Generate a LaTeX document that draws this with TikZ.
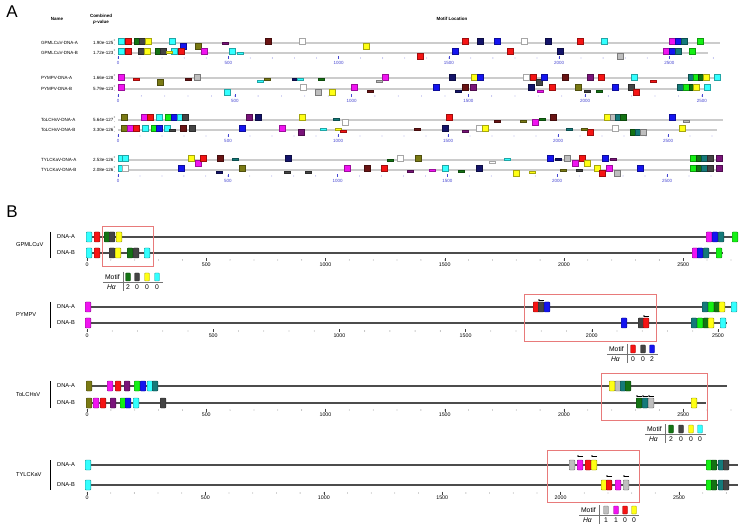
\documentclass[tikz,border=0pt]{standalone}
\usepackage{fontspec}
\setmainfont{Liberation Sans}
\usetikzlibrary{arrows.meta}

\definecolor{mcyan}{HTML}{33FFFF}
\definecolor{mred}{HTML}{F51414}
\definecolor{mdkgreen}{HTML}{147314}
\definecolor{mdkgray}{HTML}{444444}
\definecolor{myellow}{HTML}{FFFF14}
\definecolor{mblue}{HTML}{1414F0}
\definecolor{mnavy}{HTML}{14146A}
\definecolor{mmagenta}{HTML}{F014F0}
\definecolor{mmaroon}{HTML}{6A1414}
\definecolor{molive}{HTML}{7A7A14}
\definecolor{mpurple}{HTML}{7A147A}
\definecolor{mteal}{HTML}{147A7A}
\definecolor{mgray}{HTML}{BEBEBE}
\definecolor{mlime}{HTML}{14F014}
\definecolor{mwhite}{HTML}{FFFFFF}
\definecolor{axblue}{HTML}{4646D2}
\definecolor{hlred}{HTML}{E87A7A}

\tikzset{
  abox/.style={draw=#1!65!black, fill=#1, line width=0.3pt},
  bbox/.style={draw=#1!60!black, fill=#1, line width=0.4pt, rounded corners=0.8pt},
  rowlab/.style={font=\fontsize{4.5}{5}\selectfont, anchor=west, inner sep=0pt},
  hdlab/.style={font=\fontsize{4.5}{5}\selectfont\bfseries, inner sep=0pt},
  alab/.style={font=\fontsize{4.5}{5}\selectfont, text=axblue, inner sep=0pt},
  blab/.style={font=\fontsize{5.3}{6}\selectfont, inner sep=0pt},
  grlab/.style={font=\fontsize{5.7}{6}\selectfont, anchor=west, inner sep=0pt},
  leg/.style={font=\fontsize{6.8}{7}\selectfont, inner sep=0pt},
  panel/.style={font=\fontsize{17}{18}\selectfont, inner sep=0pt},
  seqA/.style={line width=2pt, black!20},
  seqB/.style={line width=1.1pt, black!70},
  hlbox/.style={draw=hlred, line width=0.8pt},
  revarr/.style={-{Stealth[length=1.6pt,width=1.9pt]}, line width=0.5pt},
}

% dotted scale: x of 0, y of the numbers, px per bp, last 100-step, colour, label style
\newcommand{\seqaxis}[6]{%
  \foreach \k in {0,...,#4} \fill[#5] ({#1+\k*100*#3},#2-5) circle (0.4);
  \foreach \v in {0,500,...,2500} {
    \draw[#5, line width=0.4pt] ({#1+\v*#3},#2-6.5) -- ({#1+\v*#3},#2-3.5);
    \node[#6] at ({#1+\v*#3},#2) {\v};}
}
% H-alpha table: x of separator, y of motif row, right end of rule, boxes
\newcommand{\hatab}[4]{%
  \node[leg, anchor=east] at (#1-3,#2) {Motif};
  \node[leg, anchor=east, font=\fontsize{6.8}{7}\selectfont\itshape] at (#1-7,#2+10) {Hα};
  \draw[black!55, line width=0.5pt] (#1,#2-5) -- (#1,#2+14);
  \draw[black!55, line width=0.5pt] (#1-20,#2+5.5) -- (#3,#2+5.5);
  \foreach \lx/\cl/\hv in {#4} {
    \path[bbox=\cl] (\lx-2.5,#2-4) rectangle (\lx+2.5,#2+4);
    \node[leg] at (\lx,#2+10) {\hv};}
}

\begin{document}
\begin{tikzpicture}[x=1pt,y=-1pt]
  \useasboundingbox[fill=white] (0,0) rectangle (744,526);

  % ---------------- panel A ----------------
  \node[panel] (pa) at (12,12) {A};
  \node[hdlab] (hname) at (57,19) {Name};
  \node[hdlab] (hcomb) at (101,16) {Combined};
  \node[hdlab] (hpval) at (101,22) {\textit{p}-value};
  \node[hdlab] (hloc) at (452,19) {Motif Location};

  \foreach \ry/\nm/\pv in {43/GPMLCuV-DNA-A/1.90e-125, 53/GPMLCuV-DNA-B/1.72e-123,
      78/PYMPV-DNA-A/1.66e-128, 89/PYMPV-DNA-B/5.79e-123,
      120/ToLCHsV-DNA-A/5.64e-127, 130/ToLCHsV-DNA-B/3.30e-126,
      160/TYLCKaV-DNA-A/2.53e-126, 170/TYLCKaV-DNA-B/2.08e-126} {
    \node[rowlab] at (41,\ry) {\nm};
    \node[rowlab] at (93,\ry) {\pv};
    \node[rowlab, font=\fontsize{3}{3}\selectfont] at (113.5,\ry-2) {+};
    \node[rowlab, font=\fontsize{3}{3}\selectfont] at (114,\ry+2) {-};
  }

  \draw[seqA] (118,43) -- (720,43);
  \draw[seqA] (118,53) -- (708,53);
  \draw[seqA] (118,78) -- (720,78);
  \draw[seqA] (118,89) -- (711,89);
  \draw[seqA] (118,120) -- (723,120);
  \draw[seqA] (118,130) -- (717,130);
  \draw[seqA] (118,160) -- (722,160);
  \draw[seqA] (118,170) -- (722,170);

  \seqaxis{118}{63}{0.2205}{27}{axblue}{alab}
  \seqaxis{118}{101}{0.2335}{25}{axblue}{alab}
  \seqaxis{118}{141}{0.22}{27}{axblue}{alab}
  \seqaxis{118}{181}{0.2196}{27}{axblue}{alab}

  % motif hits, full size
  \foreach \px/\py/\cl in {
      121/41/mcyan, 128/41/mred, 137/41/mdkgreen, 142/41/mdkgray, 148/41/myellow,
      172/41/mcyan, 183/46/mblue, 198/46/molive, 268/41/mmaroon, 302/41/mwhite,
      366/46/myellow, 465/41/mred, 480/41/mnavy, 497/41/mblue, 524/41/mwhite,
      548/41/mnavy, 580/41/mred, 604/41/mcyan, 672/41/mmagenta, 678/41/mblue,
      684/41/mteal, 700/41/mlime,
      121/51/mcyan, 128/51/mred, 141/51/mdkgray, 147/51/myellow, 158/51/mdkgreen,
      163/51/mdkgray, 174/51/mcyan, 181/51/mred, 204/51/mmagenta, 232/51/mcyan,
      420/56/mred, 455/51/mblue, 510/51/mred, 560/51/mnavy, 620/56/mgray,
      666/51/mmagenta, 672/51/mblue, 678/51/mteal, 692/51/mlime,
      121/77/mmagenta, 160/82/molive, 197/77/mgray, 385/77/mmagenta, 452/77/mnavy,
      474/77/myellow, 480/77/mblue, 526/77/mwhite, 533/77/mred, 539/82/mdkgray,
      544/77/mblue, 565/77/mmaroon, 590/77/mpurple, 601/77/mred, 634/77/mcyan,
      691/77/mteal, 696/77/mlime, 701/77/mdkgreen, 706/77/myellow, 717/77/mcyan,
      121/87/mmagenta, 227/92/mcyan, 303/87/mwhite, 318/92/mgray, 332/92/myellow,
      354/87/mmagenta, 436/87/mblue, 465/87/mmaroon, 473/87/mpurple, 531/87/mnavy,
      552/87/mred, 578/87/molive, 615/87/mblue, 631/87/mdkgray, 636/92/mred,
      680/87/mteal, 686/87/mlime, 692/87/mdkgreen, 696/87/myellow, 707/87/mcyan,
      124/117/molive, 144/117/mmagenta, 150/117/mred, 159/117/mcyan, 168/117/mlime,
      174/117/mblue, 180/117/mcyan, 185/117/mdkgray, 249/117/mpurple, 258/117/mnavy,
      302/117/myellow, 345/122/mwhite, 449/117/mred, 535/122/mmagenta, 553/117/mmaroon,
      607/117/myellow, 613/117/mgray, 618/117/mteal, 623/117/mdkgreen, 672/117/mblue,
      124/128/molive, 130/128/mmagenta, 136/128/mred, 145/128/mcyan, 154/128/mlime,
      159/128/mblue, 167/128/mcyan, 183/128/mmaroon, 192/128/mdkgray, 242/128/mblue,
      282/128/mmagenta, 301/132/mpurple, 445/128/mnavy, 479/128/mwhite, 485/128/myellow,
      590/132/mred, 615/128/mwhite, 633/132/mdkgreen, 638/132/mteal, 643/132/mgray,
      682/128/myellow,
      121/158/mcyan, 125/158/mcyan, 191/158/myellow, 198/163/mmagenta, 203/158/mred,
      220/158/mmaroon, 288/158/mnavy, 400/158/mwhite, 418/158/molive, 550/158/mblue,
      567/158/mgray, 575/163/mmagenta, 582/158/mred, 587/163/myellow, 605/158/mblue,
      693/158/mlime, 699/158/mdkgreen, 704/158/mteal, 710/158/mdkgray, 719/158/mpurple,
      121/168/mcyan, 125/168/mwhite, 181/168/mblue, 242/168/molive, 347/168/mmagenta,
      367/168/mmaroon, 384/168/mred, 445/168/mcyan, 479/168/mnavy, 516/173/myellow,
      597/168/myellow, 602/173/mred, 609/168/mmagenta, 617/173/mgray, 640/168/mblue,
      693/168/mlime, 699/168/mdkgreen, 704/168/mteal, 710/168/mdkgray, 719/168/mpurple}
    \path[abox=\cl] (\px-3,\py-3) rectangle (\px+3,\py+3);

  % motif hits, weak (thin)
  \foreach \px/\py/\cl in {
      225/43/mpurple, 169/52/myellow, 240/53/mcyan,
      136/79/mred, 188/79/mmaroon, 260/81/mcyan, 267/79/molive, 295/79/mnavy,
      300/79/mcyan, 321/79/mdkgreen, 379/81/mgray, 653/81/mred,
      370/91/mmaroon, 458/91/mnavy, 540/91/mmagenta, 587/91/mdkgray, 599/91/mdkgreen,
      336/119/mteal, 497/121/mmaroon, 523/121/molive, 542/119/mdkgreen, 686/121/mgray,
      172/130/mdkgray, 323/129/mcyan, 338/129/myellow, 343/131/mred, 417/129/mmaroon,
      465/131/mpurple, 569/129/mteal, 584/129/molive,
      235/159/mteal, 390/160/mdkgreen, 492/162/mwhite, 507/159/mcyan, 558/159/mnavy,
      613/159/mpurple,
      219/172/mnavy, 287/172/mdkgray, 308/172/mdkgray, 410/171/mpurple, 432/170/mmagenta,
      461/171/mdkgreen, 532/172/myellow, 563/170/molive, 579/170/mdkgray}
    \path[abox=\cl] (\px-3,\py-1.3) rectangle (\px+3,\py+1.3);

  % ---------------- panel B ----------------
  \node[panel] (pb) at (12,212) {B};

  \foreach \ya/\yb/\gn in {237/253/GPMLCuV, 307/323/PYMPV, 386/403/ToLCHsV, 465/485/TYLCKaV} {
    \node[grlab] at (16,{(\ya+\yb)/2}) {\gn};
    \draw[line width=1pt] (50,\ya-5) -- (50,\yb+5);
    \node[grlab] at (57,\ya) {DNA-A};
    \node[grlab] at (57,\yb) {DNA-B};
  }

  \draw[seqB] (87,237) -- (737,237);
  \draw[seqB] (87,253) -- (723,253);
  \draw[seqB] (87,307) -- (737,307);
  \draw[seqB] (87,323) -- (727,323);
  \draw[seqB] (87,386) -- (727,386);
  \draw[seqB] (87,403) -- (706,403);
  \draw[seqB] (87,465) -- (738,465);
  \draw[seqB] (87,485) -- (738,485);

  \seqaxis{87}{265}{0.2385}{27}{black!75}{blab}
  \seqaxis{87}{336}{0.2524}{25}{black!75}{blab}
  \seqaxis{87}{415}{0.2385}{27}{black!75}{blab}
  \seqaxis{87}{498}{0.2368}{27}{black!75}{blab}

  \foreach \bx/\by/\cl in {
      89/237/mcyan, 97/237/mred, 107/237/mdkgreen, 112/237/mdkgray, 119/237/myellow,
      709/237/mmagenta, 715/237/mblue, 721/237/mteal, 735/237/mlime,
      89/253/mcyan, 97/253/mred, 112/253/mdkgray, 118/253/myellow, 130/253/mdkgreen,
      136/253/mdkgray, 147/253/mcyan, 695/253/mmagenta, 700/253/mblue, 706/253/mteal,
      719/253/mlime,
      88/307/mmagenta, 536/307/mred, 541/307/mdkgray, 547/307/mblue, 705/307/mteal,
      711/307/mlime, 717/307/mdkgreen, 722/307/myellow, 734/307/mcyan,
      88/323/mmagenta, 624/323/mblue, 641/323/mdkgray, 646/323/mred, 694/323/mteal,
      700/323/mlime, 706/323/mdkgreen, 711/323/myellow, 723/323/mcyan,
      89/386/molive, 110/386/mmagenta, 118/386/mred, 127/386/mpurple, 137/386/mlime,
      143/386/mblue, 150/386/mcyan, 155/386/mteal, 612/386/myellow, 618/386/mgray,
      623/386/mteal, 628/386/mdkgreen,
      89/403/molive, 96/403/mmagenta, 103/403/mred, 113/403/mpurple, 123/403/mlime,
      128/403/mblue, 136/403/mcyan, 163/403/mdkgray, 639/403/mdkgreen, 645/403/mteal,
      651/403/mgray, 694/403/myellow,
      88/465/mcyan, 572/465/mgray, 580/465/mmagenta, 588/465/mred, 594/465/myellow,
      709/465/mlime, 714/465/mdkgreen, 721/465/mteal, 726/465/mdkgray,
      88/485/mcyan, 604/485/myellow, 609/485/mred, 618/485/mmagenta, 626/485/mgray,
      709/485/mlime, 714/485/mdkgreen, 721/485/mteal, 726/485/mdkgray}
    \path[bbox=\cl] (\bx-2.8,\by-5) rectangle (\bx+2.8,\by+5);

  % reverse strand marks
  \foreach \ax/\ay in {541/300, 646/316, 639/396, 645/396, 651/396,
      580/456, 594/456, 609/476, 626/476}
    \draw[revarr] (\ax+3,\ay) -- (\ax-3,\ay);

  % highlighted regions
  \draw[hlbox] (102,226) rectangle (153,266);
  \draw[hlbox] (524,294) rectangle (656,341);
  \draw[hlbox] (601,373) rectangle (707,420);
  \draw[hlbox] (547,450) rectangle (639,502);

  \hatab{123}{277}{163}{128/mdkgreen/2, 137/mdkgray/0, 147/myellow/0, 157/mcyan/0}
  \hatab{627}{349}{658}{633/mred/0, 643/mdkgray/0, 652/mblue/2}
  \hatab{665}{429}{706}{671/mdkgreen/2, 681/mdkgray/0, 691/myellow/0, 700/mcyan/0}
  \hatab{599}{510}{639}{606/mgray/1, 616/mmagenta/1, 625/mred/0, 634/myellow/0}
\end{tikzpicture}
\end{document}
